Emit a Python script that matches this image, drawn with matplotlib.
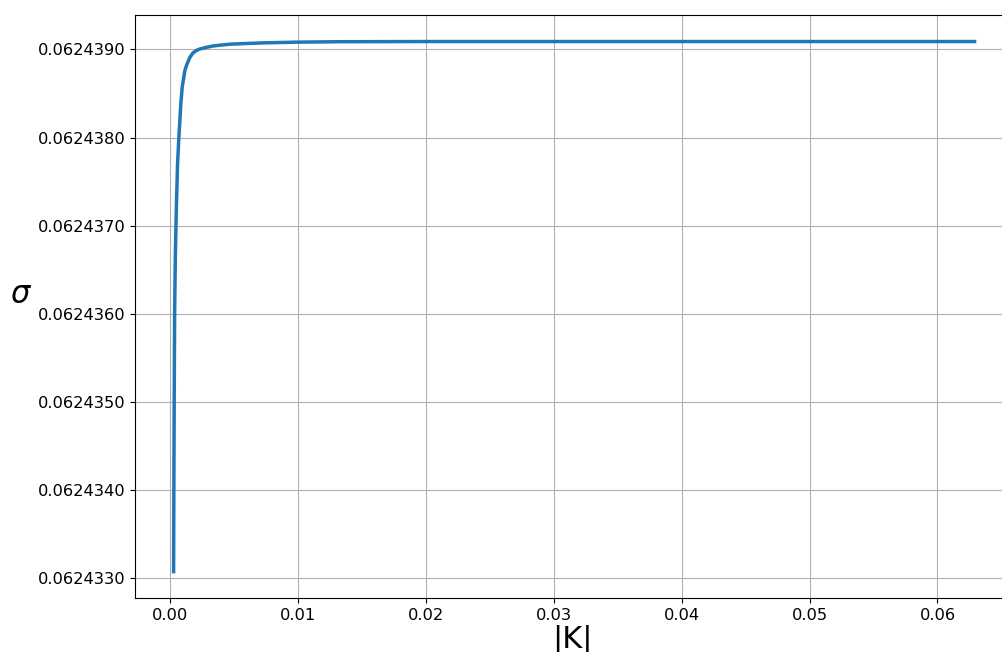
import matplotlib
matplotlib.use("Agg")
import matplotlib.pyplot as plt
from matplotlib.ticker import FormatStrFormatter

# |K| values and sigma
k_vals = [0.00029, 0.00031, 0.00034, 0.00037, 0.00043, 0.00052, 0.00060, 0.00070,
          0.00086, 0.00096, 0.00117, 0.00130, 0.00156, 0.00180, 0.00209, 0.00234,
          0.00287, 0.00338, 0.00400, 0.00469, 0.0055, 0.0073, 0.0099, 0.0133,
          0.0200, 0.0300, 0.0400, 0.0500, 0.0629]
sigma = [0.06243307, 0.06243400, 0.06243511, 0.06243601, 0.06243670, 0.06243729,
         0.06243770, 0.06243800, 0.06243839, 0.06243857, 0.06243876, 0.06243882,
         0.06243891, 0.06243896, 0.06243899, 0.062439005, 0.062439025, 0.06243904,
         0.062439050, 0.06243906, 0.062439065, 0.062439075, 0.062439083, 0.062439088,
         0.06243909, 0.06243909, 0.06243909, 0.06243909, 0.06243909]

fig = plt.figure(figsize=(10.02, 6.52), dpi=100)
ax = fig.add_axes([0.1347, 0.0828, 0.877, 0.894])
ax.plot(k_vals, sigma, color='#1f77b4', linewidth=2.5)
ax.set_xlim(-0.00273, 0.06596)
ax.set_ylim(0.06243277, 0.06243939)
ax.grid(True)
ax.yaxis.set_major_formatter(FormatStrFormatter('%.7f'))
ax.xaxis.set_major_formatter(FormatStrFormatter('%.2f'))
ax.tick_params(labelsize=11.7)
ax.set_xlabel('|K|', fontsize=22)
ax.set_ylabel(r'$\sigma$', fontsize=22, rotation=0)
ax.yaxis.set_label_coords(-0.13, 0.496)
ax.xaxis.set_label_coords(0.498, -0.046)

fig.savefig('out.png', dpi=100)
